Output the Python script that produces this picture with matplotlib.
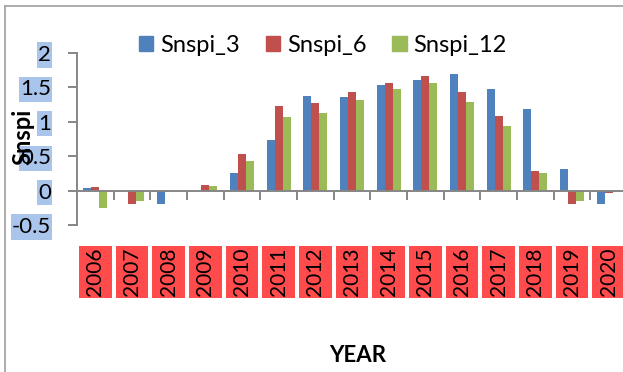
import numpy as np
import matplotlib
matplotlib.use("Agg")
import matplotlib.pyplot as plt
from matplotlib.patches import Patch
from matplotlib.path import Path

plt.rcParams['font.family'] = ['Lato', 'DejaVu Sans']

years = ['2006', '2007', '2008', '2009', '2010', '2011', '2012', '2013',
         '2014', '2015', '2016', '2017', '2018', '2019', '2020']
snspi_3 = [0.04, 0.00, -0.20, 0.00, 0.26, 0.73, 1.37, 1.36, 1.53, 1.61, 1.70, 1.47, 1.19, 0.31, -0.20]
snspi_6 = [0.05, -0.19, 0.00, 0.08, 0.53, 1.23, 1.27, 1.43, 1.57, 1.67, 1.43, 1.09, 0.28, -0.19, -0.04]
snspi_12 = [-0.26, -0.15, 0.00, 0.07, 0.43, 1.07, 1.13, 1.31, 1.47, 1.57, 1.29, 0.94, 0.25, -0.15, 0.00]
series = ['Snspi_3', 'Snspi_6', 'Snspi_12']
colors = ['#4F81BD', '#C0504D', '#9BBB59']
yticks = [-0.5, 0, 0.5, 1, 1.5, 2]
ytick_labels = ['-0.5', '0', '0.5', '1', '1.5', '2']


class RectBox:
    # box with separate padding along and across the text
    def __init__(self, padx, pady):
        self.padx = padx
        self.pady = pady

    def __call__(self, x0, y0, width, height, mutation_size):
        px = self.padx * mutation_size
        py = self.pady * mutation_size
        x0, y0 = x0 - px, y0 - py
        x1, y1 = x0 + width + 2 * px, y0 + height + 2 * py
        return Path([(x0, y0), (x1, y0), (x1, y1), (x0, y1), (x0, y0)],
                    closed=True)


grey = '#868686'
fig = plt.figure(figsize=(6.23, 3.72), dpi=100)
ax = fig.add_axes([77/623, 1 - 225/372, 550/623, 172/372])

x = np.arange(len(years))
w = 0.22
for k, (vals, c) in enumerate(zip([snspi_3, snspi_6, snspi_12], colors)):
    ax.bar(x + (k - 1) * w, vals, w, color=c, edgecolor='none', zorder=2)

ax.set_xlim(-0.5, len(years) - 0.5)
ax.set_ylim(-0.5, 2)

for s in ['top', 'right']:
    ax.spines[s].set_visible(False)
ax.spines['bottom'].set_position(('data', 0))
for s in ['bottom', 'left']:
    ax.spines[s].set_color(grey)
    ax.spines[s].set_linewidth(1.4)
ax.spines['bottom'].set_zorder(3)

# y axis
ax.set_yticks(yticks)
ax.set_yticklabels(ytick_labels, fontsize=16)
ax.tick_params(axis='y', direction='out', length=6.5, width=1.4, color=grey, pad=12)
for t in ax.get_yticklabels():
    t.set_bbox(dict(boxstyle=RectBox(0.05, 0.12), fc='#A9C5EB', ec='none'))

# x axis: boundary ticks + year labels
ax.set_xticks(x[:-1] + 0.5)
ax.set_xticklabels([])
ax.tick_params(axis='x', which='major', direction='out', length=6.5, width=1.4, color=grey)
ax.set_xticks(x, minor=True)
ax.set_xticklabels(years, minor=True, rotation=90, fontsize=15)
ax.tick_params(axis='x', which='minor', length=0, pad=41)
for t in ax.get_xticklabels(minor=True):
    t.set_bbox(dict(boxstyle=RectBox(0.08, 0.3), fc='#FF4B4B', ec='none'))
    t.set_va('top')

fig.text(23/623, 1 - 137/372, 'Snspi', rotation=90, fontsize=17, fontweight='bold',
         ha='center', va='center')
fig.text(358/623, 1 - 355/372, 'YEAR', fontsize=16, fontweight='bold',
         ha='center', va='center')

handles = [Patch(color=c) for c in colors]
fig.legend(handles, series, loc='center', bbox_to_anchor=(0.518, 1 - 45/372),
           ncol=3, frameon=False, fontsize=17, handlelength=0.6, handleheight=0.6,
           handletextpad=0.3, columnspacing=1.1)

# outer chart frame (left and top)
fig.add_artist(plt.Line2D([5/623, 5/623], [0, 1 - 6/372], color='#A6A6A6', lw=1.3))
fig.add_artist(plt.Line2D([5/623, 1], [1 - 6/372, 1 - 6/372], color='#A6A6A6', lw=1.3))

fig.savefig('out.png', dpi=100)
